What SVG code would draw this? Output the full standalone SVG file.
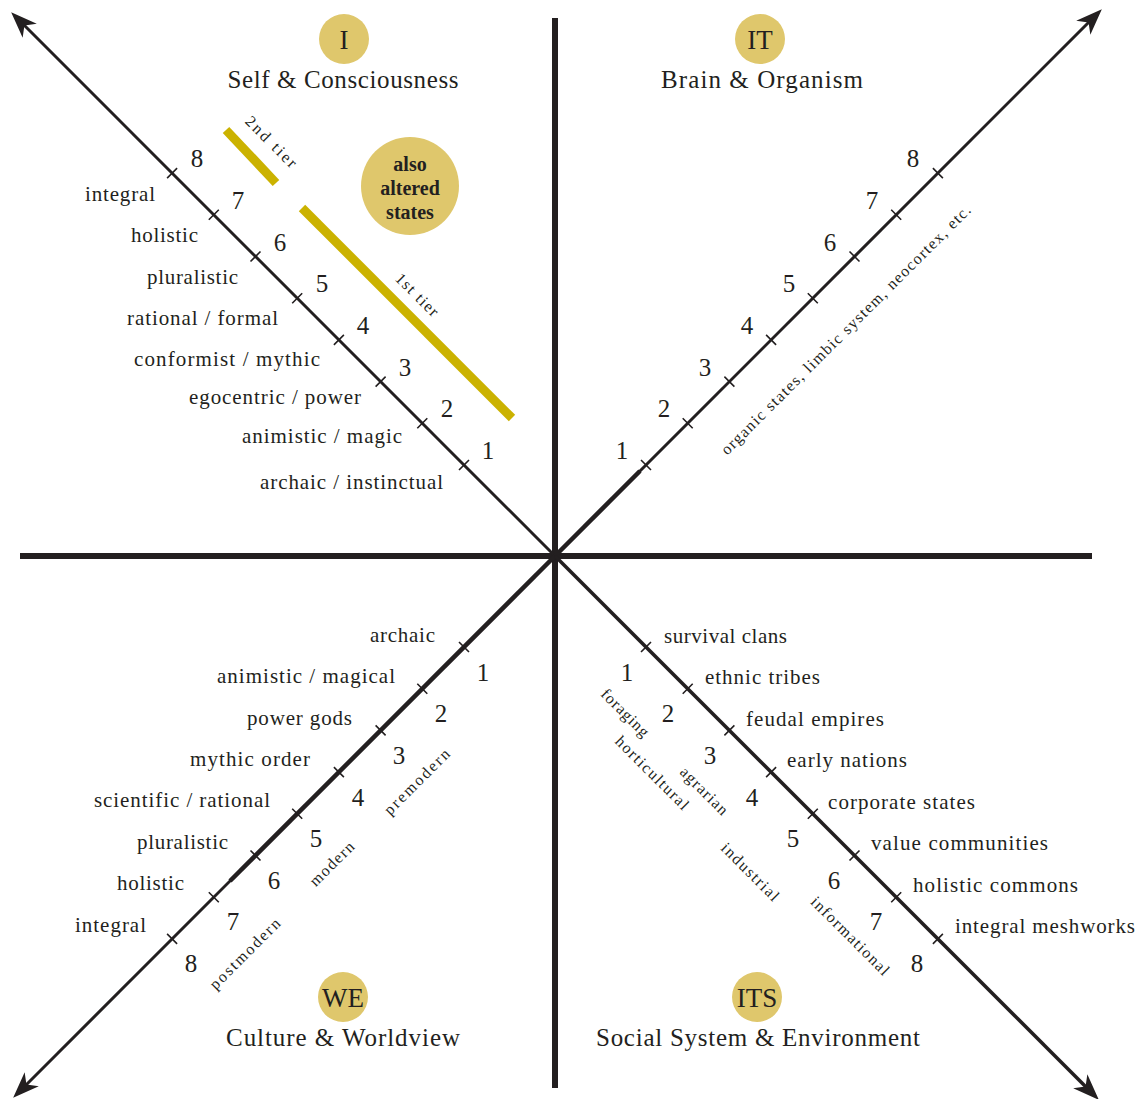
<svg xmlns="http://www.w3.org/2000/svg" width="1137" height="1099" viewBox="0 0 1137 1099">
<style>
.ax{stroke:#231f20;fill:none}
.tk{stroke:#231f20;stroke-width:1.6;fill:none}
.bar{stroke:#cbb200;stroke-width:9;fill:none}
.t{font-family:"Liberation Serif",serif;fill:#231f20}
.lab{font-size:21px}
.num{font-size:25px;text-anchor:middle}
.rot{font-size:16px;text-anchor:middle}
.title{font-size:25px;text-anchor:middle}
.badge{fill:#dfc76c}
.btxt{font-size:27px;text-anchor:middle}
.alt{font-size:20px;font-weight:bold;text-anchor:middle}
</style>
<defs>
<marker id="arr" markerUnits="userSpaceOnUse" markerWidth="30" markerHeight="30" refX="0" refY="0" viewBox="-12 -10 24 20" orient="auto">
<path d="M10,0 L-11,-8 L-5,0 L-11,8 Z" fill="#231f20"/>
</marker>
</defs>
<rect width="1137" height="1099" fill="#ffffff"/>

<g id="connectors">
<line class="ax" x1="555" y1="18" x2="555" y2="1088" stroke-width="6"/>
<line class="ax" x1="20" y1="556" x2="1092" y2="556" stroke-width="6"/>
<line class="ax" x1="555" y1="556" x2="20" y2="21" stroke-width="3" marker-end="url(#arr)"/>
<line class="ax" x1="555" y1="556" x2="1093" y2="18" stroke-width="3" marker-end="url(#arr)"/>
<line class="ax" x1="555" y1="556" x2="640" y2="471" stroke-width="4.5"/>
<line class="ax" x1="555" y1="556" x2="22" y2="1089" stroke-width="3" marker-end="url(#arr)"/>
<line class="ax" x1="555" y1="556" x2="230" y2="881" stroke-width="4.5"/>
<line class="ax" x1="555" y1="556" x2="1090" y2="1091" stroke-width="3.6" marker-end="url(#arr)"/>
</g>

<g id="ticks">
<path class="tk" d="M459,470 l10,-10 M417.3,428.3 l10,-10 M375.6,386.6 l10,-10 M333.9,344.9 l10,-10 M292.2,303.2 l10,-10 M250.5,261.5 l10,-10 M208.8,219.8 l10,-10 M167.1,178.1 l10,-10"/>
<path class="tk" d="M641,460 l10,10 M682.7,418.3 l10,10 M724.4,376.6 l10,10 M766.1,334.9 l10,10 M807.8,293.2 l10,10 M849.5,251.5 l10,10 M891.2,209.8 l10,10 M932.9,168.1 l10,10"/>
<path class="tk" d="M459,642 l10,10 M417.3,683.7 l10,10 M375.6,725.4 l10,10 M333.9,767.1 l10,10 M292.2,808.8 l10,10 M250.5,850.5 l10,10 M208.8,892.2 l10,10 M167.1,933.9 l10,10"/>
<path class="tk" d="M641,652 l10,-10 M682.7,693.7 l10,-10 M724.4,735.4 l10,-10 M766.1,777.1 l10,-10 M807.8,818.8 l10,-10 M849.5,860.5 l10,-10 M891.2,902.2 l10,-10 M932.9,943.9 l10,-10"/>
</g>

<g id="quadrant-I">
<circle class="badge" cx="344" cy="39" r="25"/>
<text class="t btxt" x="344" y="49">I</text>
<text class="t title" x="343" y="88" textLength="231">Self &amp; Consciousness</text>
<line class="bar" x1="226" y1="130" x2="276" y2="183"/>
<line class="bar" x1="302" y1="208" x2="512" y2="418"/>
<text class="t rot" transform="translate(271,142) rotate(45)" y="5" textLength="66">2nd  tier</text>
<text class="t rot" transform="translate(417,295) rotate(45)" y="5" textLength="54">1st  tier</text>
<circle class="badge" cx="410" cy="186" r="49"/>
<text class="t alt" x="410" y="171">also</text>
<text class="t alt" x="410" y="195">altered</text>
<text class="t alt" x="410" y="219">states</text>
<text class="t num" x="488" y="459">1</text>
<text class="t num" x="447" y="417">2</text>
<text class="t num" x="405" y="376">3</text>
<text class="t num" x="363" y="334">4</text>
<text class="t num" x="322" y="292">5</text>
<text class="t num" x="280" y="251">6</text>
<text class="t num" x="238" y="209">7</text>
<text class="t num" x="197" y="167">8</text>
<g text-anchor="end">
<text class="t lab" x="155" y="201" textLength="70">integral</text>
<text class="t lab" x="198" y="242" textLength="67">holistic</text>
<text class="t lab" x="238" y="284" textLength="91">pluralistic</text>
<text class="t lab" x="278" y="325" textLength="151">rational / formal</text>
<text class="t lab" x="320" y="366" textLength="186">conformist / mythic</text>
<text class="t lab" x="361" y="404" textLength="172">egocentric / power</text>
<text class="t lab" x="402" y="443" textLength="160">animistic / magic</text>
<text class="t lab" x="443" y="489" textLength="183">archaic / instinctual</text>
</g>
</g>

<g id="quadrant-IT">
<circle class="badge" cx="760" cy="39" r="25"/>
<text class="t btxt" x="760" y="49">IT</text>
<text class="t title" x="762" y="88" textLength="202">Brain &amp; Organism</text>
<text class="t num" x="622" y="459">1</text>
<text class="t num" x="664" y="417">2</text>
<text class="t num" x="705" y="376">3</text>
<text class="t num" x="747" y="334">4</text>
<text class="t num" x="789" y="292">5</text>
<text class="t num" x="830" y="251">6</text>
<text class="t num" x="872" y="209">7</text>
<text class="t num" x="913" y="167">8</text>
<text class="t rot" transform="translate(846,330) rotate(-45)" y="5" textLength="346">organic states, limbic system, neocortex, etc.</text>
</g>

<g id="quadrant-WE">
<circle class="badge" cx="343" cy="997" r="25"/>
<text class="t btxt" x="343" y="1007">WE</text>
<text class="t title" x="343" y="1046" textLength="234">Culture &amp; Worldview</text>
<text class="t num" x="483" y="681">1</text>
<text class="t num" x="441" y="722">2</text>
<text class="t num" x="399" y="764">3</text>
<text class="t num" x="358" y="806">4</text>
<text class="t num" x="316" y="847">5</text>
<text class="t num" x="274" y="889">6</text>
<text class="t num" x="233" y="930">7</text>
<text class="t num" x="191" y="972">8</text>
<g text-anchor="end">
<text class="t lab" x="435" y="642" textLength="65">archaic</text>
<text class="t lab" x="395" y="683" textLength="178">animistic / magical</text>
<text class="t lab" x="352" y="725" textLength="105">power gods</text>
<text class="t lab" x="310" y="766" textLength="120">mythic order</text>
<text class="t lab" x="270" y="807" textLength="176">scientific / rational</text>
<text class="t lab" x="228" y="849" textLength="91">pluralistic</text>
<text class="t lab" x="184" y="890" textLength="67">holistic</text>
<text class="t lab" x="146" y="932" textLength="71">integral</text>
</g>
<text class="t rot" transform="translate(417,782) rotate(-45)" y="5" textLength="86">premodern</text>
<text class="t rot" transform="translate(332,864) rotate(-45)" y="5" textLength="56">modern</text>
<text class="t rot" transform="translate(245,954) rotate(-45)" y="5" textLength="93">postmodern</text>
</g>

<g id="quadrant-ITS">
<circle class="badge" cx="757" cy="997" r="25"/>
<text class="t btxt" x="757" y="1007">ITS</text>
<text class="t title" x="758" y="1046" textLength="324">Social System &amp; Environment</text>
<text class="t num" x="627" y="681">1</text>
<text class="t num" x="668" y="722">2</text>
<text class="t num" x="710" y="764">3</text>
<text class="t num" x="752" y="806">4</text>
<text class="t num" x="793" y="847">5</text>
<text class="t num" x="834" y="889">6</text>
<text class="t num" x="876" y="930">7</text>
<text class="t num" x="917" y="972">8</text>
<text class="t lab" x="664" y="643" textLength="123">survival clans</text>
<text class="t lab" x="705" y="684" textLength="115">ethnic tribes</text>
<text class="t lab" x="746" y="726" textLength="138">feudal empires</text>
<text class="t lab" x="787" y="767" textLength="120">early nations</text>
<text class="t lab" x="828" y="809" textLength="147">corporate states</text>
<text class="t lab" x="871" y="850" textLength="177">value communities</text>
<text class="t lab" x="913" y="892" textLength="165">holistic commons</text>
<text class="t lab" x="955" y="933" textLength="180">integral meshworks</text>
<text class="t rot" transform="translate(625,713) rotate(45)" y="5" textLength="61">foraging</text>
<text class="t rot" transform="translate(652,773) rotate(45)" y="5" textLength="97">horticultural</text>
<text class="t rot" transform="translate(704,791) rotate(45)" y="5" textLength="61">agrarian</text>
<text class="t rot" transform="translate(750,872) rotate(45)" y="5" textLength="75">industrial</text>
<text class="t rot" transform="translate(850,936) rotate(45)" y="5" textLength="104">informational</text>
</g>
</svg>
